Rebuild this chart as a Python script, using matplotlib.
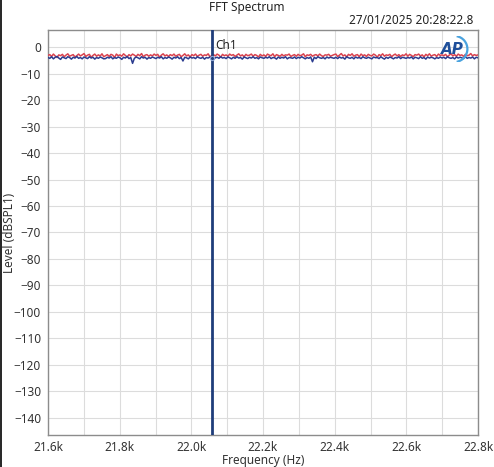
import numpy as np
import matplotlib
matplotlib.use("Agg")
from matplotlib import pyplot as plt
from matplotlib.patches import Arc

plt.rcParams["font.family"] = ["Noto Sans", "DejaVu Sans"]

# frequency span of the FFT view (Hz)
freq_start = 21600
freq_stop = 22800

# level readings (dBSPL), evenly spaced over the span
red_level = [
    -3.1, -2.8, -3.5, -2.6, -3.3, -3.9, -2.9, -3.2, -2.7, -3.6, -3.0, -2.5, -3.4, -3.1, -2.8, -3.7, -3.2, -2.6, -3.3, -2.9,
    -2.4, -3.5, -3.0, -2.7, -3.8, -3.1, -2.6, -3.4, -2.9, -3.3, -2.5, -3.6, -3.2, -2.8, -3.5, -2.7, -3.0, -3.9, -2.6, -3.2,
    -2.9, -3.4, -2.5, -3.1, -3.7, -2.8, -3.3, -2.6, -3.0, -3.5, -2.7, -3.2, -2.4, -3.6, -3.0, -2.8, -3.4, -2.9, -3.3, -2.6,
    -3.1, -2.7, -3.8, -3.0, -2.5, -3.3, -2.9, -3.5, -2.8, -3.2, -2.6, -3.4, -3.0, -2.7, -3.6, -3.1, -2.5, -3.3, -2.9, -3.7,
    -2.8, -3.2, -2.6, -3.5, -3.0, -2.7, -3.4, -2.9, -3.1, -2.5, -3.6, -3.2, -2.8, -3.3, -2.6, -3.0, -3.8, -2.7, -3.2, -2.9,
    -3.4, -2.6, -3.1, -2.8, -3.5, -3.0, -2.5, -3.3, -2.9, -3.6, -2.7, -3.2, -3.0, -2.6, -3.4, -2.8, -3.1, -3.7, -2.7, -3.3,
    -2.9, -3.5, -2.6, -3.0, -3.2, -2.5, -3.6, -2.8, -3.1, -3.4, -2.7, -3.3, -2.9, -3.0, -2.6, -3.5, -3.1, -2.8, -3.4, -2.7,
    -3.2, -3.0, -2.5, -3.6, -2.9, -3.1, -2.7, -3.4, -3.0, -2.8, -3.3, -2.6, -3.2, -3.5, -2.9, -3.0, -2.7, -3.4, -3.1, -2.8,
    -2.6, -3.5, -3.0, -2.4, -3.3, -2.9, -3.7, -2.7, -3.1, -2.5, -3.4, -3.0, -2.8, -3.6, -2.6, -3.2, -2.9, -3.5, -2.7, -3.1,
    -3.3, -2.6, -3.0, -3.8, -2.8, -3.2, -2.5, -3.4, -2.9, -3.1, -2.7, -3.6, -3.0, -2.6, -3.3, -2.8, -3.5, -2.9, -3.2, -2.5,
    -3.4, -2.7, -3.1, -3.6, -2.8, -3.0, -2.6, -3.3, -2.9, -3.7, -2.7, -3.2, -2.5, -3.4, -3.0, -2.8, -3.5, -2.6, -3.1, -2.9,
    -3.2, -2.7, -3.6, -3.0, -2.5, -3.3, -2.8, -3.4, -2.6, -3.1, -2.9, -3.5, -2.7, -3.2, -3.0, -2.4, -3.3, -2.8, -3.1, -2.9,
]
blue_level = [
    -3.9, -4.2, -3.6, -4.4, -3.8, -3.5, -4.1, -4.6, -3.7, -4.0, -4.3, -3.6, -3.9, -4.5, -3.8, -4.1, -3.5, -4.2, -3.9, -4.4,
    -3.7, -4.0, -4.3, -3.6, -4.1, -3.8, -4.5, -3.9, -4.2, -3.7, -4.0, -4.4, -4.3, -3.8, -4.1, -3.6, -4.4, -3.9, -4.2, -3.7,
    -4.0, -4.6, -3.8, -4.1, -3.5, -4.3, -3.9, -6.1, -4.2, -3.7, -4.0, -4.4, -3.6, -4.1, -3.8, -4.5, -3.9, -4.2, -3.7, -4.0,
    -4.3, -3.8, -4.1, -3.6, -4.4, -3.9, -4.2, -3.7, -4.0, -4.5, -3.8, -4.1, -3.6, -4.3, -3.9, -5.2, -3.8, -4.0, -4.4, -3.7,
    -4.1, -3.9, -4.3, -3.6, -4.0, -4.2, -3.8, -4.5, -3.9, -4.1, -3.7, -4.4, -4.6, -4.0, -3.8, -4.2, -3.6, -4.1, -3.9, -4.3,
    -3.7, -4.0, -4.4, -3.8, -4.2, -3.6, -4.1, -3.9, -4.5, -3.7, -4.0, -4.3, -3.8, -4.1, -3.6, -4.2, -3.9, -4.4, -3.7, -4.0,
    -4.2, -3.8, -4.1, -3.6, -4.3, -3.9, -4.0, -4.5, -3.7, -4.2, -3.8, -4.1, -3.6, -4.4, -3.9, -4.0, -4.2, -3.7, -4.3, -3.8,
    -4.1, -3.6, -4.0, -4.4, -3.9, -4.2, -3.7, -5.5, -3.8, -4.3, -3.6, -4.0, -4.2, -3.9, -4.4, -3.7, -4.1, -3.8, -4.0, -4.2,
    -3.8, -4.3, -3.7, -4.1, -3.9, -4.5, -3.6, -4.0, -4.2, -3.8, -4.4, -3.7, -4.1, -3.9, -4.3, -3.6, -4.0, -4.2, -3.8, -4.1,
    -4.4, -3.7, -4.0, -3.9, -4.3, -3.6, -4.1, -4.5, -3.8, -4.2, -3.7, -4.0, -4.4, -3.9, -4.1, -3.6, -4.3, -3.8, -4.0, -4.2,
    -3.9, -4.1, -3.7, -4.4, -3.8, -4.0, -4.3, -3.6, -4.2, -3.9, -4.5, -3.7, -4.1, -3.8, -4.0, -4.4, -3.9, -4.2, -3.7, -4.1,
    -3.8, -4.3, -3.6, -4.0, -4.2, -3.9, -4.4, -3.7, -4.1, -3.8, -4.0, -4.3, -3.6, -4.2, -3.9, -4.1, -3.7, -4.4, -3.8, -4.0,
]

cursor_freq = 22058
cursor_level = -4.0

x_ticks = [21600, 21800, 22000, 22200, 22400, 22600, 22800]
x_tick_labels = ["21.6k", "21.8k", "22.0k", "22.2k", "22.4k", "22.6k", "22.8k"]
y_ticks = list(range(0, -150, -10))

freq_red = np.linspace(freq_start, freq_stop, len(red_level))
freq_blue = np.linspace(freq_start, freq_stop, len(blue_level))

fig = plt.figure(figsize=(4.94, 4.67), dpi=100)
ax = fig.add_axes([48 / 494, 1 - 435 / 467, 430 / 494, 405 / 467])

ax.plot(freq_red, red_level, color="#d9434f", lw=1.1, zorder=3)
ax.plot(freq_blue, blue_level, color="#2b3c8f", lw=1.1, zorder=4)

# cursor
ax.axvline(cursor_freq, color="#1f3d7a", lw=2.0, zorder=5)
ax.plot([cursor_freq], [cursor_level], marker="o", ms=3, mfc="none", mec="#8fa8d8", mew=0.8, zorder=6)
ax.text(cursor_freq + 8, 0.8, "Ch1", fontsize=8.5, color="#222222", va="center", ha="left", zorder=6)

ax.set_xlim(freq_start, freq_stop)
ax.set_ylim(-146.5, 6.5)
ax.set_xticks(x_ticks)
ax.set_xticklabels(x_tick_labels)
ax.set_xticks(np.arange(freq_start, freq_stop + 1, 100), minor=True)
ax.set_yticks(y_ticks)
ax.tick_params(which="both", length=0, labelsize=8.5, colors="#333333")
ax.tick_params(axis="y", pad=5)
ax.tick_params(axis="x", pad=4)
ax.grid(which="both", color="#dcdcdc", lw=0.8)
ax.set_axisbelow(True)
for s in ax.spines.values():
    s.set_color("#8c8c8c")
    s.set_linewidth(1.0)

ax.set_xlabel("Frequency (Hz)", fontsize=8.5, color="#333333", labelpad=0)
ax.set_ylabel("Level (dBSPL1)", fontsize=8.5, color="#333333")
ax.yaxis.set_label_coords(-32 / 430, 0.5)

fig.text(0.5, 1 - 8 / 467, "FFT Spectrum", fontsize=8.5, ha="center", va="center", color="#222222")
fig.text(473 / 494, 1 - 20 / 467, "27/01/2025 20:28:22.8", fontsize=8.5, ha="right", va="center", color="#222222")

# AP logo
fig.text(452 / 494, 1 - 49 / 467, "AP", fontsize=11, fontweight="bold", fontstyle="italic",
         family="DejaVu Sans", color="#1f4f9a", ha="center", va="center")
logo = fig.add_axes([444 / 494, 1 - 62 / 467, 26 / 494, 26 / 467])
logo.axis("off")
logo.add_patch(Arc((0.4, 0.5), 1.0, 1.0, theta1=-80, theta2=80, color="#4aa3df", lw=1.6))
logo.set_xlim(0, 1)
logo.set_ylim(0, 1)

# black left border of the window
fig.add_artist(plt.Line2D([0.5 / 494, 0.5 / 494], [0, 1], color="black", lw=1.2))

fig.savefig("out.png", dpi=100)
